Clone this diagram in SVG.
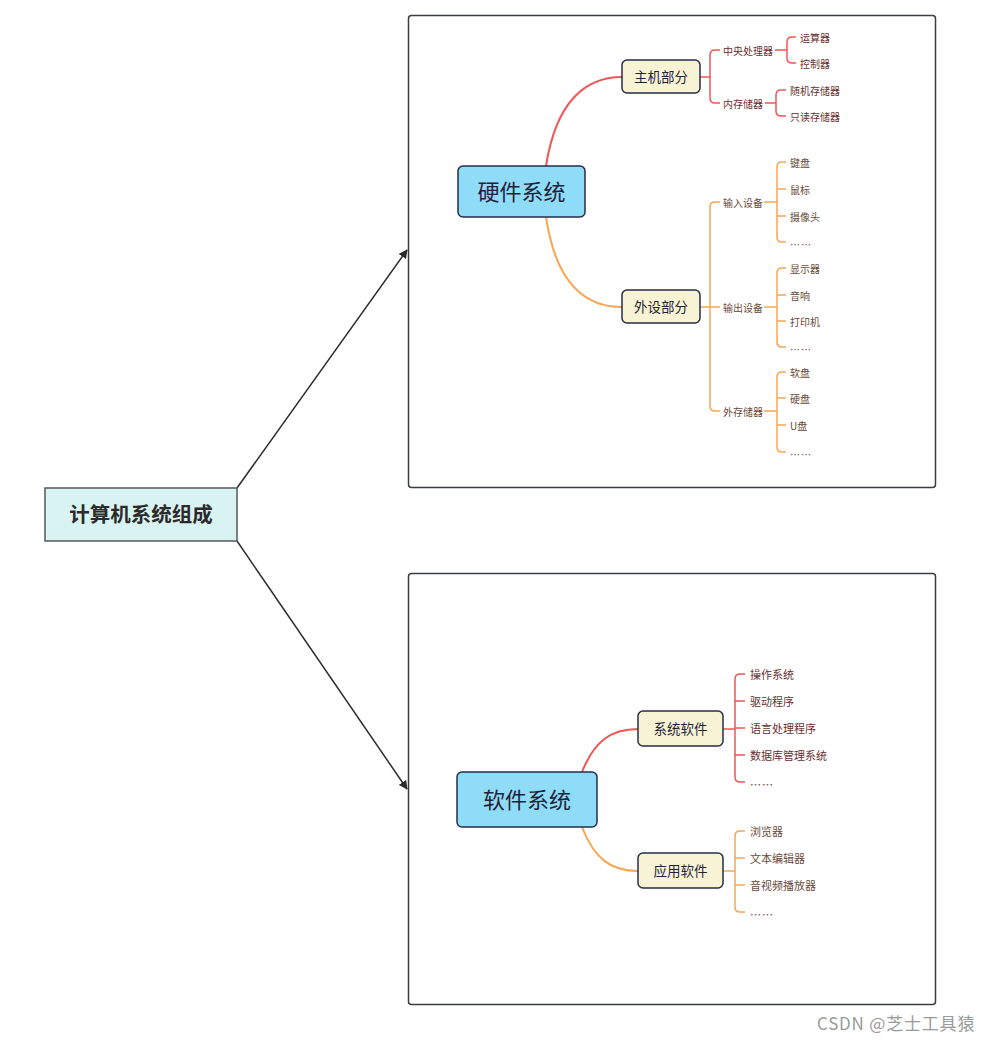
<svg xmlns="http://www.w3.org/2000/svg" width="1003" height="1042" viewBox="0 0 1003 1042">
<defs>
<marker id="arr" viewBox="0 0 10 10" refX="9" refY="5" markerWidth="9" markerHeight="9" markerUnits="userSpaceOnUse" orient="auto"><path d="M0,0 L10,5 L0,10 z" fill="#2b2b2b"/></marker>
<style>
.frame{fill:#fff;stroke:#3a3d42;stroke-width:1.5}
.root{fill:#d9f3f3;stroke:#555a5e;stroke-width:1.5}
.main{fill:#8fdcf8;stroke:#262d4a;stroke-width:1.5}
.sub{fill:#f8f3d4;stroke:#262d4a;stroke-width:1.5}
.red{fill:none;stroke:#f25656;stroke-width:2}
.org{fill:none;stroke:#f7a654;stroke-width:2}
.redt{fill:none;stroke:#f25656;stroke-width:1.5}
.orgt{fill:none;stroke:#f7a654;stroke-width:1.5}
.arrow{fill:none;stroke:#2b2b2b;stroke-width:1.5}
text{font-family:"Noto Sans CJK SC","Liberation Sans",sans-serif}
.rt{font-size:20.5px;font-weight:bold;fill:#2b2b2b}
.mt{font-size:22px;fill:#1e2438}
.st{font-size:13.5px;fill:#1e2438}
.lr{font-size:10px;fill:#6a3030}
.lo{font-size:10px;fill:#6a4a38}
.lr2{font-size:11px;fill:#6a3030}
.lo2{font-size:11px;fill:#6a4a38}
.dots{letter-spacing:1px}
.wm{font-size:17px;fill:#9a9a9a;letter-spacing:0.8px}
</style>
</defs>
<rect class="frame" x="408.5" y="15.5" width="527" height="472" rx="3"/>
<rect class="frame" x="408.5" y="573.5" width="527" height="431" rx="3"/>

<g id="connectors">
<path class="arrow" d="M237,488 L407,250" marker-end="url(#arr)"/>
<path class="arrow" d="M237,541 L407,789" marker-end="url(#arr)"/>
<path class="red" d="M546,166 C556,102 585,77 622,77"/>
<path class="org" d="M546,217 C556,284 585,307 622,307"/>
<path class="red" d="M582,772 C594,742 610,729 638,729"/>
<path class="org" d="M582,827 C594,858 610,871 638,871"/>
<path class="redt" d="M700,77 H710 M720,50 H715 Q710,50 710,55 V98 Q710,103 715,103 H720"/>
<path class="redt" d="M775,50 H787 M796,37 H792 Q787,37 787,42 V58 Q787,63 792,63 H796"/>
<path class="redt" d="M765,103 H776 M786,90 H781 Q776,90 776,95 V111 Q776,116 781,116 H786"/>
<path class="orgt" d="M700,307 H720 M720,202 H715 Q710,202 710,207 V406 Q710,411 715,411 H720"/>
<path class="orgt" d="M764,202 H777 M786,162 H782 Q777,162 777,167 V237 Q777,242 782,242 H786 M777,189 H786 M777,216 H786"/>
<path class="orgt" d="M764,307 H777 M786,268 H782 Q777,268 777,273 V342 Q777,347 782,347 H786 M777,295 H786 M777,321 H786"/>
<path class="orgt" d="M764,411 H777 M786,372 H782 Q777,372 777,377 V447 Q777,452 782,452 H786 M777,398 H786 M777,425 H786"/>
<path class="redt" d="M723,729 H735 M745,674 H740 Q735,674 735,679 V777 Q735,782 740,782 H745 M735,701 H745 M735,728 H745 M735,755 H745"/>
<path class="orgt" d="M723,871 H735 M745,831 H740 Q735,831 735,836 V907 Q735,912 740,912 H745 M735,858 H745 M735,885 H745"/>
</g>

<g id="root"><rect class="root" x="45" y="488" width="192" height="53"/><text class="rt" x="141" y="522" text-anchor="middle">计算机系统组成</text></g>
<g id="hw"><rect class="main" x="458" y="166" width="127" height="51" rx="5"/><text class="mt" x="521.5" y="200" text-anchor="middle">硬件系统</text></g>
<g id="sw"><rect class="main" x="457" y="772" width="140" height="55" rx="5"/><text class="mt" x="527" y="808" text-anchor="middle">软件系统</text></g>
<g id="host"><rect class="sub" x="622" y="60" width="78" height="33" rx="5"/><text class="st" x="661" y="81.5" text-anchor="middle">主机部分</text></g>
<g id="peri"><rect class="sub" x="622" y="290" width="78" height="33" rx="5"/><text class="st" x="661" y="311.5" text-anchor="middle">外设部分</text></g>
<g id="sys"><rect class="sub" x="638" y="711" width="85" height="35" rx="5"/><text class="st" x="680.5" y="733.5" text-anchor="middle">系统软件</text></g>
<g id="app"><rect class="sub" x="638" y="853" width="85" height="35" rx="5"/><text class="st" x="680.5" y="875.5" text-anchor="middle">应用软件</text></g>

<g id="hw-labels" dominant-baseline="central">
<text class="lr" x="723" y="50">中央处理器</text>
<text class="lr" x="723" y="103">内存储器</text>
<text class="lr" x="800" y="37">运算器</text>
<text class="lr" x="800" y="63">控制器</text>
<text class="lr" x="790" y="90">随机存储器</text>
<text class="lr" x="790" y="116">只读存储器</text>
<text class="lo" x="723" y="202">输入设备</text>
<text class="lo" x="723" y="307">输出设备</text>
<text class="lo" x="723" y="411">外存储器</text>
<text class="lo" x="790" y="162">键盘</text>
<text class="lo" x="790" y="189">鼠标</text>
<text class="lo" x="790" y="216">摄像头</text>
<text class="lo dots" x="790" y="244">……</text>
<text class="lo" x="790" y="268">显示器</text>
<text class="lo" x="790" y="295">音响</text>
<text class="lo" x="790" y="321">打印机</text>
<text class="lo dots" x="790" y="349">……</text>
<text class="lo" x="790" y="372">软盘</text>
<text class="lo" x="790" y="398">硬盘</text>
<text class="lo" x="790" y="425">U盘</text>
<text class="lo dots" x="790" y="454">……</text>
</g>
<g id="sw-labels" dominant-baseline="central">
<text class="lr2" x="750" y="674">操作系统</text>
<text class="lr2" x="750" y="701">驱动程序</text>
<text class="lr2" x="750" y="728">语言处理程序</text>
<text class="lr2" x="750" y="755">数据库管理系统</text>
<text class="lr2 dots" x="750" y="784">……</text>
<text class="lo2" x="750" y="831">浏览器</text>
<text class="lo2" x="750" y="858">文本编辑器</text>
<text class="lo2" x="750" y="885">音视频播放器</text>
<text class="lo2 dots" x="750" y="914">……</text>
</g>
<text class="wm" x="817" y="1030">CSDN @芝士工具猿</text>
</svg>
